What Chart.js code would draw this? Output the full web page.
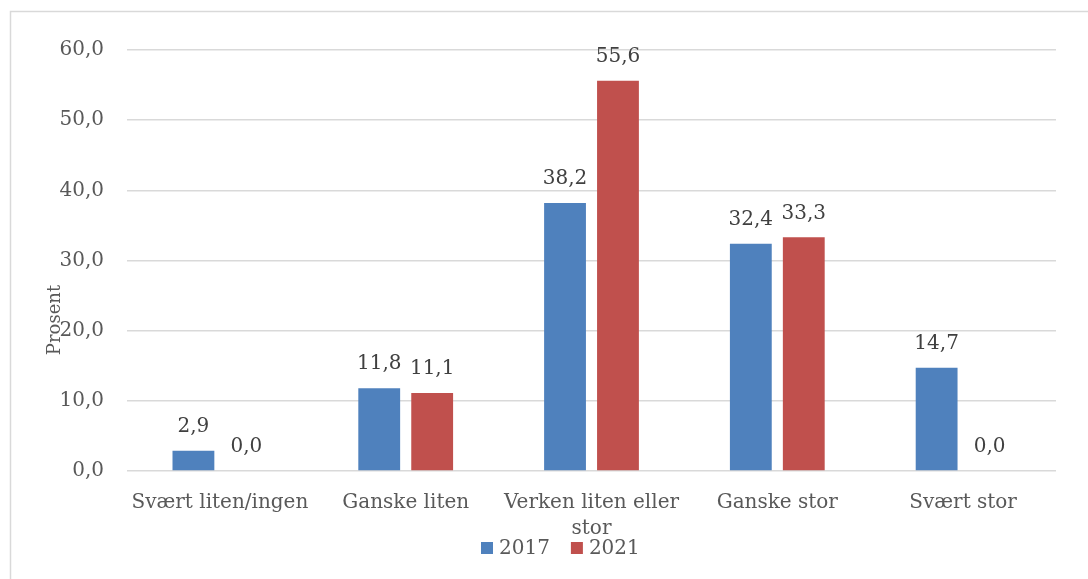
<!DOCTYPE html>
<html>
<head>
<meta charset="utf-8">
<script src="https://cdn.jsdelivr.net/npm/chart.js@4/dist/chart.umd.min.js"></script>
<style>
html,body{margin:0;padding:0;background:#fff;}
#c{display:block;}
</style>
</head>
<body>
<canvas id="c" width="1088" height="579"></canvas>
<script>
const categories = ['Svært liten/ingen', 'Ganske liten', ['Verken liten eller', 'stor'], 'Ganske stor', 'Svært stor'];
const seriesNames = ['2017', '2021'];
const values2017 = [2.9, 11.8, 38.2, 32.4, 14.7];
const values2021 = [0.0, 11.1, 55.6, 33.3, 0.0];
const yTicks = [0, 10, 20, 30, 40, 50, 60];
const axisTitle = 'Prosent';

const FONT = '"DejaVu Serif", serif';
const FS = 20;
const fmt = v => v.toFixed(1).replace('.', ',');

const decor = {
  id: 'decor',
  beforeDraw(chart) {
    const ctx = chart.ctx;
    ctx.save();
    ctx.strokeStyle = '#d9d9d9';
    ctx.lineWidth = 1.5;
    ctx.beginPath();
    ctx.moveTo(10.5, 579);
    ctx.lineTo(10.5, 11.5);
    ctx.lineTo(1088, 11.5);
    ctx.stroke();
    ctx.restore();
  },
  afterDraw(chart) {
    const ctx = chart.ctx;
    ctx.save();
    // data labels
    ctx.font = FS + 'px ' + FONT;
    ctx.fillStyle = '#404040';
    ctx.textAlign = 'center';
    ctx.textBaseline = 'middle';
    chart.data.datasets.forEach((ds, di) => {
      const meta = chart.getDatasetMeta(di);
      meta.data.forEach((bar, i) => {
        ctx.fillText(fmt(ds.data[i]), bar.x, bar.y - 24);
      });
    });
    // axis title
    ctx.fillStyle = '#595959';
    ctx.save();
    ctx.font = '18px ' + FONT;
    ctx.translate(55, 320);
    ctx.rotate(-Math.PI / 2);
    ctx.textAlign = 'center';
    ctx.textBaseline = 'middle';
    ctx.fillText(axisTitle, 0, 0);
    ctx.restore();
    // legend
    let x = 481;
    const y = 548;
    ctx.textAlign = 'left';
    chart.data.datasets.forEach((ds) => {
      ctx.fillStyle = ds.backgroundColor;
      ctx.fillRect(x, y - 6, 12, 12);
      ctx.fillStyle = '#595959';
      ctx.fillText(ds.label, x + 18, y + 1);
      x += 18 + ctx.measureText(ds.label).width + 21;
    });
    ctx.restore();
  }
};

new Chart(document.getElementById('c'), {
  type: 'bar',
  data: {
    labels: categories,
    datasets: [
      { label: seriesNames[0], data: values2017, backgroundColor: '#4F81BD', categoryPercentage: 0.57, barPercentage: 0.79 },
      { label: seriesNames[1], data: values2021, backgroundColor: '#C0504D', categoryPercentage: 0.57, barPercentage: 0.79 }
    ]
  },
  options: {
    responsive: false,
    animation: false,
    layout: { padding: { top: 50, right: 32, left: 0, bottom: 0 } },
    plugins: { legend: { display: false }, tooltip: { enabled: false } },
    scales: {
      x: {
        grid: { display: false, drawTicks: false },
        border: { display: false },
        ticks: {
          color: '#595959', font: { family: FONT, size: FS, lineHeight: 1.3 },
          maxRotation: 0, autoSkip: false, padding: 19
        },
        afterFit(s) { s.height = 108; }
      },
      y: {
        min: 0, max: 60,
        afterBuildTicks(s) { s.ticks = yTicks.map(v => ({ value: v })); },
        grid: { color: '#d9d9d9', lineWidth: 1.5, drawTicks: false },
        border: { display: false },
        ticks: {
          color: '#595959', font: { family: FONT, size: FS },
          padding: 23, callback: v => fmt(v)
        },
        afterFit(s) { s.width = 127; }
      }
    }
  },
  plugins: [decor]
});
</script>
</body>
</html>
